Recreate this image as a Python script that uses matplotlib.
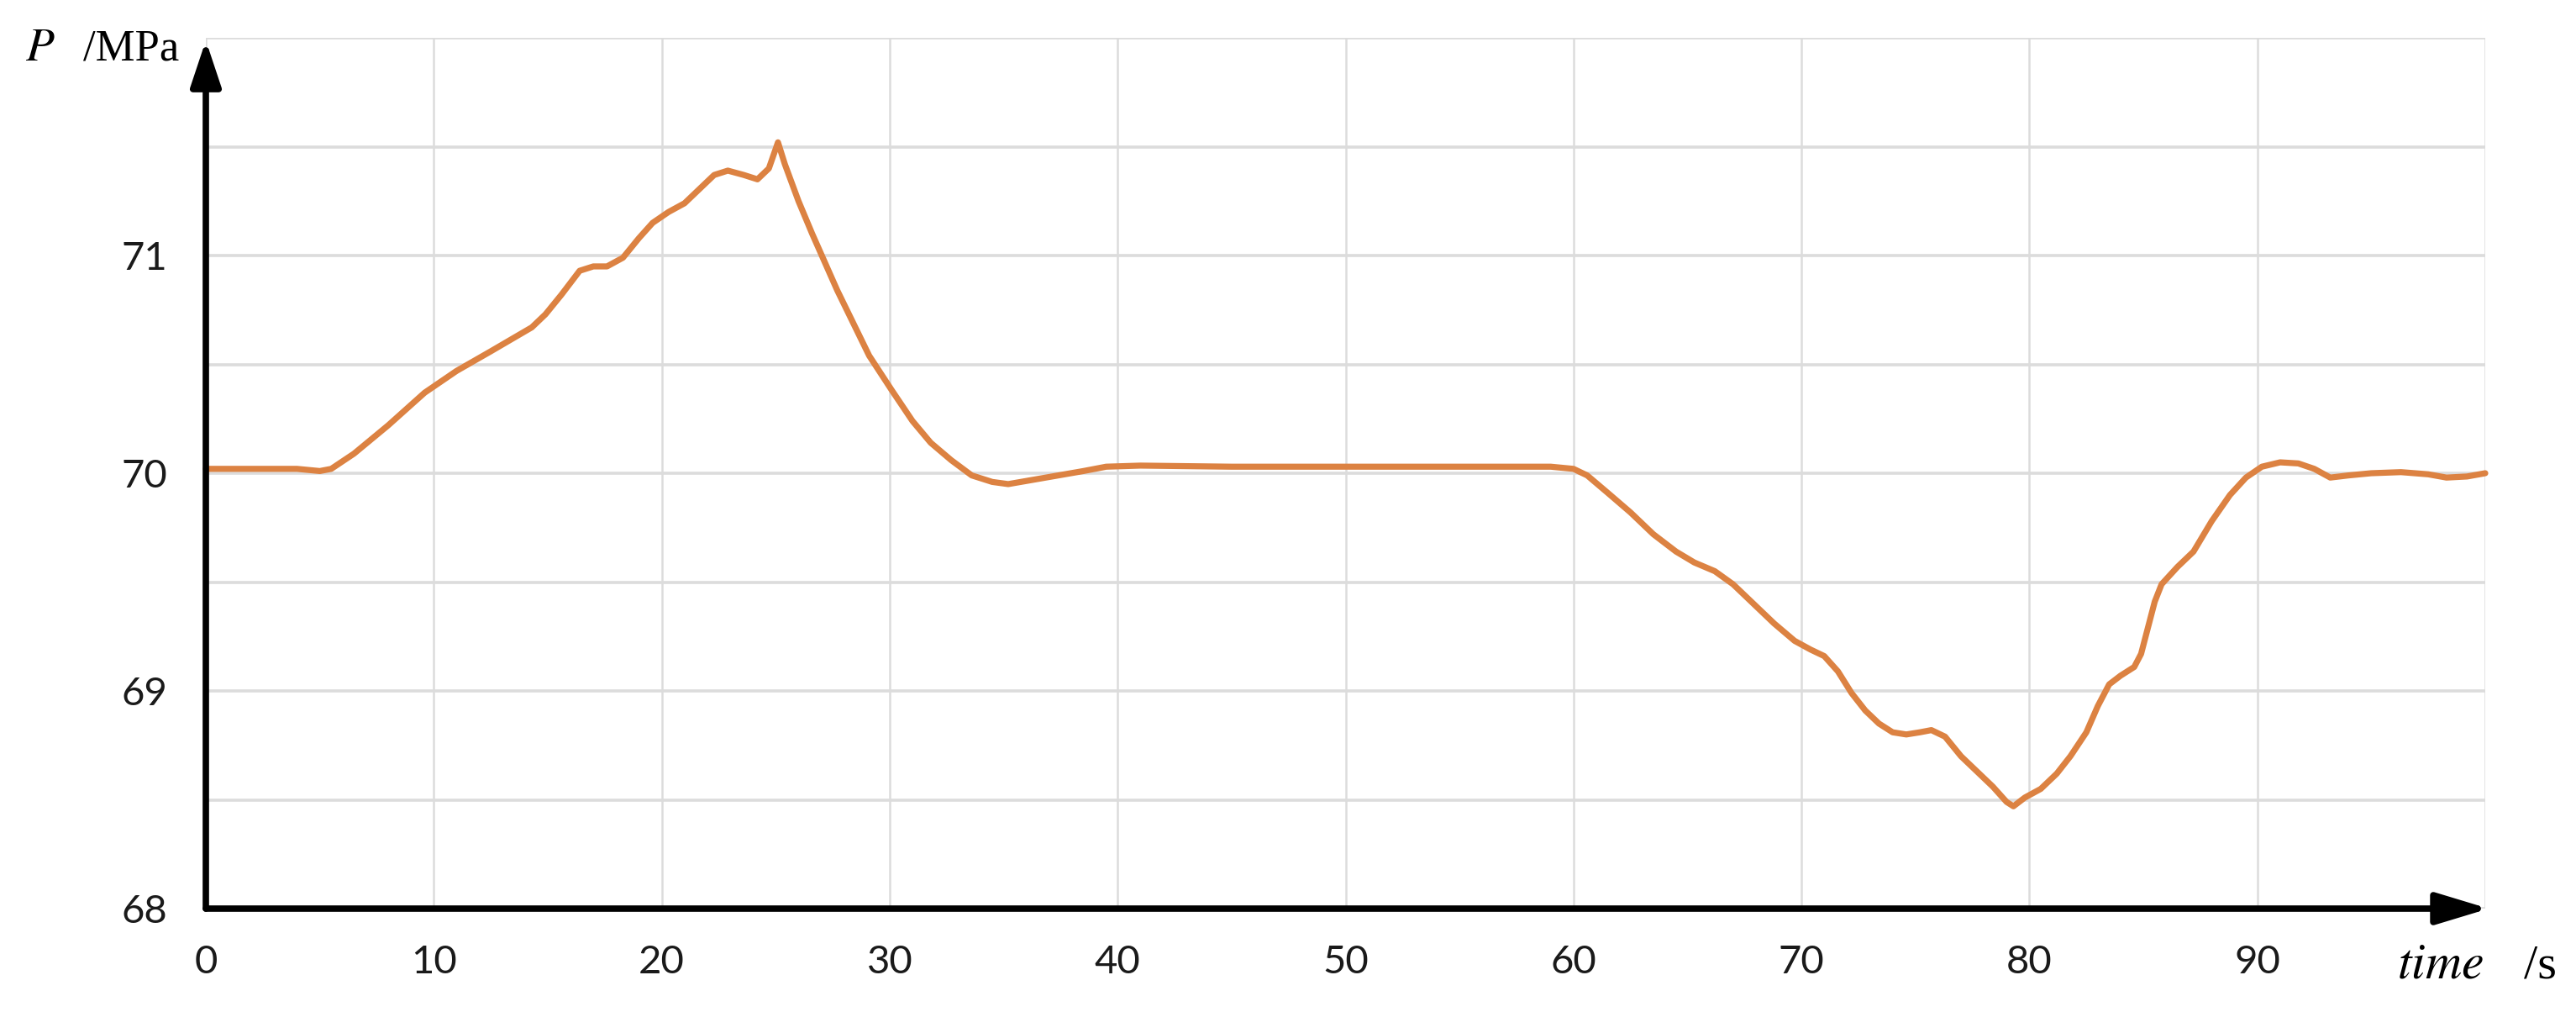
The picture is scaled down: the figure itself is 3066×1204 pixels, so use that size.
import numpy as np
import matplotlib
matplotlib.use("Agg")
import matplotlib.pyplot as plt
from matplotlib.patches import ArrowStyle

# ---- data ----
time_s = [0, 2, 4, 5, 5.5, 6.5, 8, 9.6, 11, 12.5, 14.3, 14.9, 15.6, 16.4, 17.0, 17.6,
          18.3, 19.0, 19.6, 20.3, 21.0, 21.6, 22.3, 22.9, 23.6, 24.2, 24.7, 25.1, 25.4,
          26.0, 26.6, 27.7, 29.1, 30.1, 31.0, 31.8, 32.7, 33.6, 34.5, 35.2, 36.3, 37.4,
          38.5, 39.5, 41, 45, 50, 55, 59, 60, 60.6, 61.5, 62.5, 63.5, 64.5, 65.3, 66.2,
          67.0, 67.9, 68.8, 69.7, 70.4, 71.0, 71.6, 72.2, 72.8, 73.4, 74.0, 74.6, 75.2,
          75.7, 76.3, 77.0, 77.7, 78.4, 79.0, 79.3, 79.8, 80.5, 81.2, 81.8, 82.5, 83.0,
          83.5, 84.0, 84.6, 84.9, 85.2, 85.5, 85.8, 86.5, 87.2, 88.0, 88.8, 89.5, 90.2,
          91.0, 91.8, 92.5, 93.2, 94.0, 95.0, 96.3, 97.5, 98.3, 99.2, 100]
pressure = [70.02, 70.02, 70.02, 70.01, 70.02, 70.09, 70.22, 70.37, 70.47, 70.56, 70.67,
            70.73, 70.82, 70.93, 70.95, 70.95, 70.99, 71.08, 71.15, 71.20, 71.24, 71.30,
            71.37, 71.39, 71.37, 71.35, 71.40, 71.52, 71.42, 71.25, 71.10, 70.84, 70.54,
            70.38, 70.24, 70.14, 70.06, 69.99, 69.96, 69.95, 69.97, 69.99, 70.01, 70.03,
            70.035, 70.03, 70.03, 70.03, 70.03, 70.02, 69.99, 69.91, 69.82, 69.72, 69.64,
            69.59, 69.55, 69.49, 69.40, 69.31, 69.23, 69.19, 69.16, 69.09, 68.99, 68.91,
            68.85, 68.81, 68.80, 68.81, 68.82, 68.79, 68.70, 68.63, 68.56, 68.49, 68.47,
            68.51, 68.55, 68.62, 68.70, 68.81, 68.93, 69.03, 69.07, 69.11, 69.17, 69.29,
            69.41, 69.49, 69.57, 69.64, 69.78, 69.90, 69.98, 70.03, 70.05, 70.045, 70.02,
            69.98, 69.99, 70.00, 70.005, 69.995, 69.98, 69.985, 70.00]
x_ticks = [0, 10, 20, 30, 40, 50, 60, 70, 80, 90, 100]
x_tick_labels = ["0", "10", "20", "30", "40", "50", "60", "70", "80", "90", ""]
y_ticks = [68, 68.5, 69, 69.5, 70, 70.5, 71, 71.5, 72]
y_tick_labels = ["68", "", "69", "", "70", "", "71", "", ""]

plt.rcParams["mathtext.fontset"] = "stix"

W, H = 3066, 1204
fig = plt.figure(figsize=(W / 100, H / 100), dpi=100)
ax = fig.add_axes([245 / W, 1 - 1081 / H, (2958 - 245) / W, (1081 - 45) / H])

ax.plot(time_s, pressure, color="#DC8242", lw=5.2, solid_capstyle="round",
        solid_joinstyle="round", zorder=3, clip_on=False)

ax.set_xlim(0, 100)
ax.set_ylim(68, 72)
ax.set_xticks(x_ticks)
ax.set_xticklabels(x_tick_labels)
ax.set_yticks(y_ticks)
ax.set_yticklabels(y_tick_labels)
for lab in ax.get_xticklabels() + ax.get_yticklabels():
    lab.set_fontfamily("Lato")
    lab.set_fontsize(34)
    lab.set_color("#1a1a1a")
ax.tick_params(axis="x", length=0, pad=31)
ax.tick_params(axis="y", length=0, pad=33)

ax.grid(axis="y", color="#dcdcdc", lw=2.6, zorder=0)
ax.grid(axis="x", color="#dcdcdc", lw=1.8, zorder=0)
for s in ax.spines.values():
    s.set_visible(False)

style_x = ArrowStyle("-|>", head_length=38, head_width=11.5)
style_y = ArrowStyle("-|>", head_length=33, head_width=11)
ax.annotate("", xy=(1.0015, 0), xytext=(0, 0), xycoords="axes fraction",
            arrowprops=dict(arrowstyle=style_x, lw=5.5, color="black", shrinkA=0, shrinkB=0,
                            mutation_scale=1),
            zorder=5, annotation_clip=False)
ax.annotate("", xy=(0, 0.997), xytext=(0, 0), xycoords="axes fraction",
            arrowprops=dict(arrowstyle=style_y, lw=5.5, color="black", shrinkA=0, shrinkB=0,
                            mutation_scale=1),
            zorder=5, annotation_clip=False)

fig.text(30 / W, 1 - 72 / H, r"$P$", fontsize=40, ha="left", va="baseline")
fig.text(213 / W, 1 - 72 / H, "/MPa", fontsize=38, ha="right", va="baseline",
         family="Liberation Serif")
fig.text(2853 / W, 1 - 1163 / H, r"$time$", fontsize=43, ha="left", va="baseline")
fig.text(3043 / W, 1 - 1163 / H, "/s", fontsize=42, ha="right", va="baseline",
         family="Liberation Serif")

fig.savefig("out.png", dpi=100, facecolor="white")
